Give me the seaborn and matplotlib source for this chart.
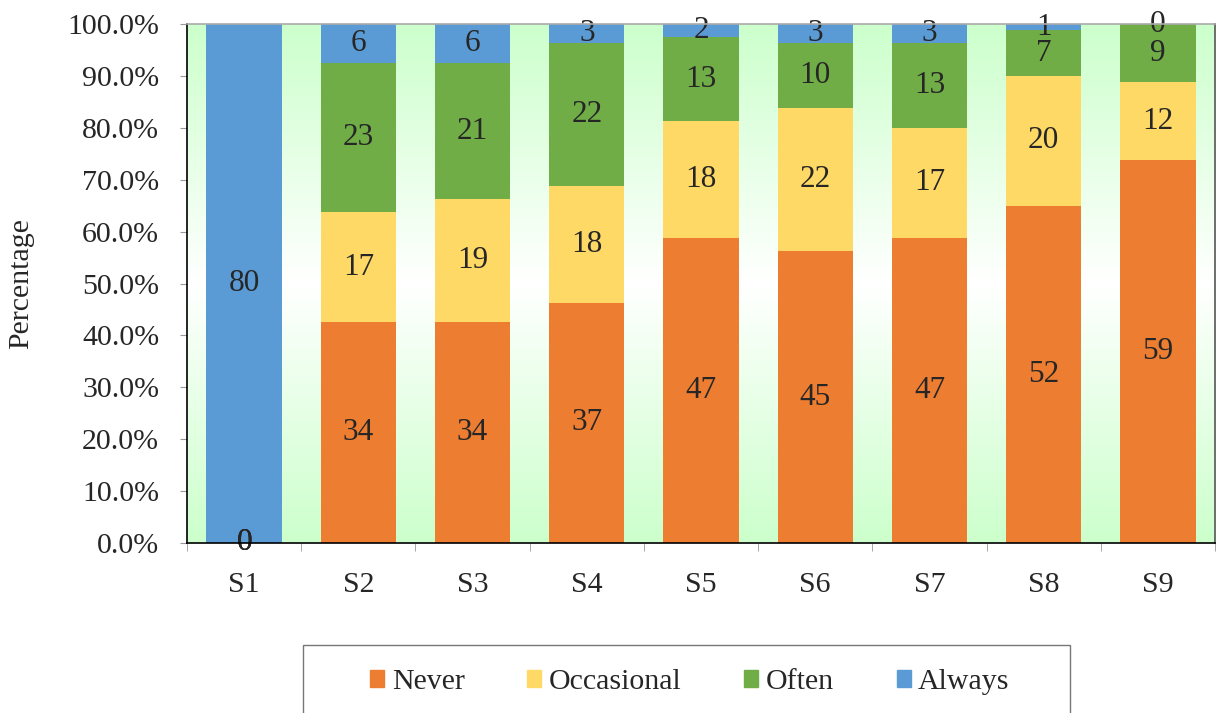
import numpy as np
import pandas as pd
import seaborn as sns
import matplotlib
import matplotlib.pyplot as plt
from matplotlib.colors import LinearSegmentedColormap

matplotlib.use('Agg')

samples = ['S1', 'S2', 'S3', 'S4', 'S5', 'S6', 'S7', 'S8', 'S9']
never = [0, 34, 34, 37, 47, 45, 47, 52, 59]
occasional = [0, 17, 19, 18, 18, 22, 17, 20, 12]
often = [0, 23, 21, 22, 13, 10, 13, 7, 9]
always = [80, 6, 6, 3, 2, 3, 3, 1, 0]

series = ['Never', 'Occasional', 'Often', 'Always']
colors = ['#ED7D31', '#FFD966', '#70AD47', '#5B9BD5']

counts = pd.DataFrame({'Never': never, 'Occasional': occasional,
                       'Often': often, 'Always': always}, index=samples)
pct = counts.div(counts.sum(axis=1), axis=0) * 100
cum = pct.cumsum(axis=1)

sns.set_style("white")
plt.rcParams['font.family'] = ['Liberation Serif', 'DejaVu Serif']
FS = 21.5

fig = plt.figure(figsize=(12.21, 7.13), dpi=100)
ax = fig.add_axes([187 / 1221, 1 - 543 / 713, 1028 / 1221, 519 / 713])

# green-white-green background gradient
cmap = LinearSegmentedColormap.from_list('bg', ['#CCFFCC', '#FFFFFF', '#CCFFCC'])
grad = np.linspace(0, 1, 256).reshape(-1, 1)
ax.imshow(grad, aspect='auto', cmap=cmap, extent=[-0.5, 8.5, 0, 100],
          zorder=0, interpolation='bicubic')

# stacked bars: draw cumulative heights from the top series down
for name, color in zip(series[::-1], colors[::-1]):
    df = pd.DataFrame({'sample': samples, 'value': cum[name].values})
    sns.barplot(data=df, x='sample', y='value', color=color, width=0.66,
                saturation=1, edgecolor='none', ax=ax, zorder=2)

for i, s in enumerate(samples):
    base = 0
    for name in series:
        h = pct.loc[s, name]
        ax.text(i, base + h / 2, str(counts.loc[s, name]), ha='center',
                va='center', fontsize=22.5, zorder=5)
        base += h

ax.set_xlim(-0.5, 8.5)
ax.set_ylim(0, 100)
ax.set_yticks(np.arange(0, 101, 10))
ax.set_yticklabels([f'{v:.1f}%' for v in np.arange(0, 101, 10)], fontsize=FS)
ax.set_xticks(range(9))
ax.set_xticklabels(samples, fontsize=FS)
ax.tick_params(axis='x', length=0, pad=21)
ax.tick_params(axis='y', length=5, color='#999999', left=True, pad=15)
ax.set_xticks(np.arange(-0.5, 9, 1), minor=True)
ax.tick_params(axis='x', which='minor', length=6, color='#999999', bottom=True)
ax.set_xlabel('')
ax.set_ylabel('Percentage', fontsize=FS, labelpad=24)

ax.spines['left'].set_color('black')
ax.spines['bottom'].set_color('black')
ax.spines['top'].set_color('#AAAAAA')
ax.spines['right'].set_color('#555555')
for sp in ax.spines.values():
    sp.set_linewidth(1.2)
    sp.set_zorder(6)

# legend box drawn separately (fixed width like the original)
box = plt.Rectangle((303 / 1221, 1 - 716 / 713), 767 / 1221, 71 / 713,
                    transform=fig.transFigure, fill=False,
                    edgecolor='#777777', linewidth=1.0)
fig.patches.append(box)

handles = [plt.Rectangle((0, 0), 1, 1, color=c) for c in colors]
fig.legend(handles, series, loc='center', ncol=4, fontsize=FS,
           bbox_to_anchor=(690 / 1221, 1 - 682 / 713), frameon=False,
           handlelength=0.47, handleheight=0.47, handletextpad=0.25,
           columnspacing=2.1, borderpad=0)

fig.savefig('out.png', dpi=100)
